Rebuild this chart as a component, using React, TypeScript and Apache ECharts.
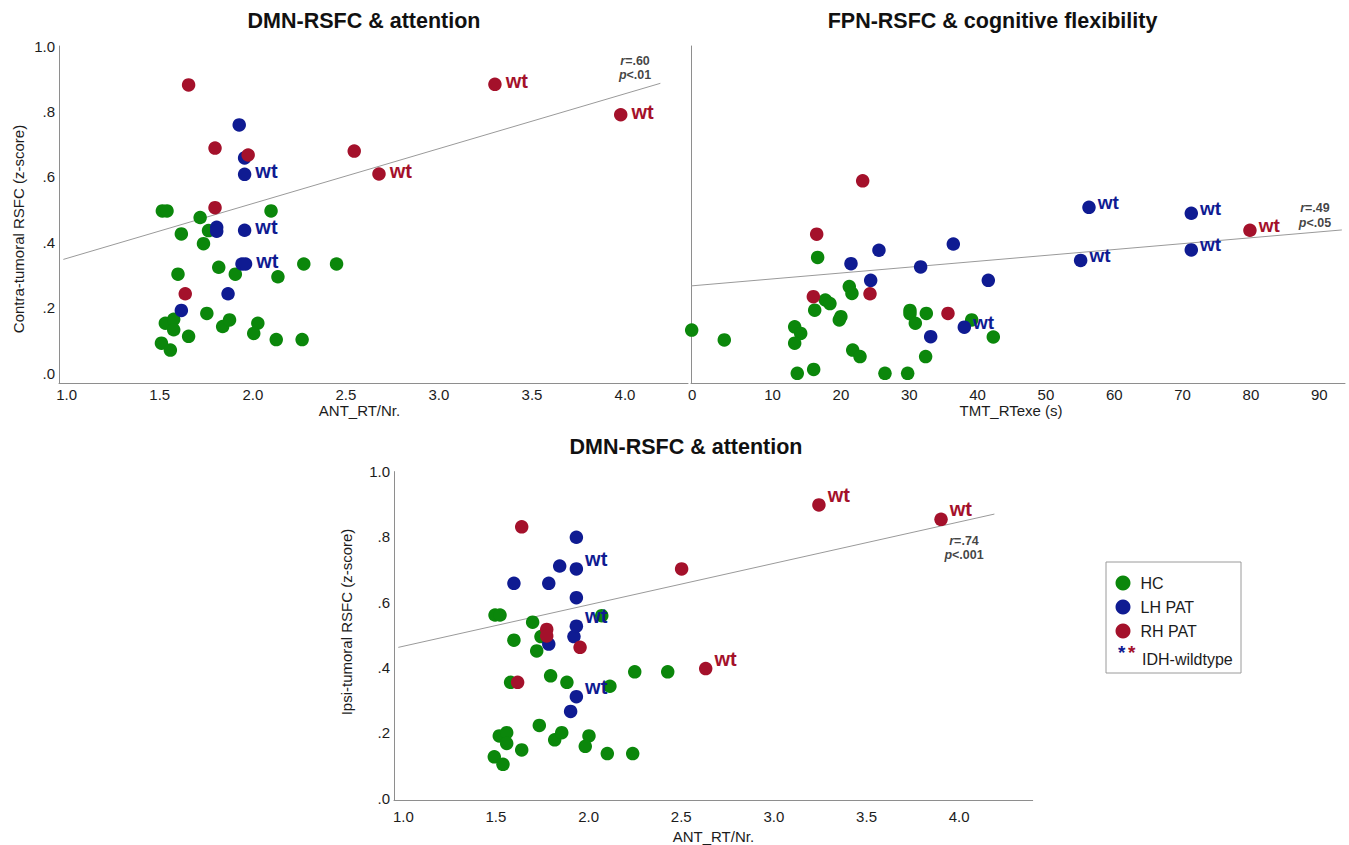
import React, { useEffect, useRef } from 'react';
import * as echarts from 'echarts';

type P = [number, number];

const FONT = '"Liberation Sans", Arial, Helvetica, sans-serif';
const groupNames = ['HC', 'LH PAT', 'RH PAT'];
const groupColors = ['#0b870b', '#0f1b92', '#a4112b'];

// Panel A: DMN-RSFC (contra-tumoral) vs ANT_RT/Nr.
const aHC: P[] = [
  [1.514, 0.496], [1.539, 0.496], [1.717, 0.476], [1.616, 0.426], [1.762, 0.436], [1.735, 0.396],
  [2.098, 0.496], [1.598, 0.303], [1.817, 0.324], [1.906, 0.303], [2.135, 0.295], [2.274, 0.334],
  [2.45, 0.334], [1.753, 0.183], [1.53, 0.153], [1.575, 0.165], [1.575, 0.133], [1.655, 0.113],
  [1.509, 0.092], [1.557, 0.071], [1.838, 0.143], [1.875, 0.163], [2.027, 0.153], [2.005, 0.122],
  [2.126, 0.103], [2.265, 0.103],
];
const aLH: P[] = [[1.927, 0.759], [1.956, 0.658], [1.806, 0.446], [1.806, 0.434], [1.867, 0.243], [1.616, 0.192], [1.942, 0.334]];
const aLHwt: P[] = [[1.956, 0.608], [1.956, 0.437], [1.961, 0.334]];
const aRH: P[] = [[1.655, 0.881], [1.797, 0.688], [1.975, 0.667], [1.797, 0.506], [1.637, 0.243], [2.545, 0.679]];
const aRHwt: P[] = [[2.678, 0.609], [3.301, 0.883], [3.977, 0.79]];
const aFit: P[] = [[0.982, 0.348], [4.19, 0.886]];
const aStat = ['.60', '.01'];
const aStatPos: P = [4.054, 0.933];

// Panel B: FPN-RSFC vs TMT_RTexe (s)
const bHC: P[] = [
  [-1.83, 0.132], [2.94, 0.102], [16.6, 0.354], [21.23, 0.265], [21.62, 0.244], [17.72, 0.224],
  [18.4, 0.213], [16.17, 0.193], [20.0, 0.173], [19.77, 0.163], [13.24, 0.142], [14.12, 0.122],
  [13.24, 0.092], [30.11, 0.192], [30.11, 0.182], [30.89, 0.153], [32.5, 0.183], [39.14, 0.163],
  [42.3, 0.111], [21.73, 0.071], [22.8, 0.051], [32.4, 0.051], [13.62, 0.0], [16.02, 0.012],
  [26.45, 0.0], [29.77, 0.0],
];
const bLH: P[] = [[21.48, 0.335], [25.57, 0.376], [24.36, 0.284], [31.67, 0.325], [36.45, 0.395], [41.57, 0.284], [33.14, 0.112]];
const bLHwt: P[] = [[38.06, 0.141], [56.3, 0.507], [55.08, 0.345], [71.27, 0.489], [71.27, 0.377]];
const bRH: P[] = [[23.19, 0.588], [16.46, 0.425], [15.97, 0.234], [24.26, 0.243], [35.67, 0.183]];
const bRHwt: P[] = [[79.85, 0.437]];
const bFit: P[] = [[-1.93, 0.267], [93.3, 0.438]];
const bStat = ['.49', '.05'];
const bStatPos: P = [89.36, 0.482];

// Panel C: DMN-RSFC (ipsi-tumoral) vs ANT_RT/Nr.
const cHC: P[] = [
  [1.495, 0.561], [1.522, 0.561], [1.698, 0.539], [2.071, 0.559], [1.597, 0.484], [1.743, 0.495],
  [1.72, 0.451], [1.579, 0.355], [1.795, 0.375], [1.883, 0.355], [2.115, 0.343], [2.249, 0.387],
  [2.427, 0.387], [1.734, 0.223], [1.518, 0.191], [1.558, 0.201], [1.558, 0.168], [1.639, 0.148],
  [1.491, 0.127], [1.538, 0.104], [1.817, 0.179], [1.855, 0.201], [2.002, 0.191], [1.982, 0.159],
  [2.101, 0.137], [2.238, 0.137],
];
const cLH: P[] = [[1.934, 0.799], [1.844, 0.711], [1.597, 0.658], [1.785, 0.658], [1.934, 0.614], [1.921, 0.495], [1.785, 0.472], [1.903, 0.266]];
const cLHwt: P[] = [[1.934, 0.702], [1.934, 0.527], [1.934, 0.311]];
const cRH: P[] = [[1.639, 0.831], [2.502, 0.702], [1.774, 0.517], [1.774, 0.497], [1.954, 0.462], [1.617, 0.355]];
const cRHwt: P[] = [[3.243, 0.898], [3.902, 0.854], [2.632, 0.397]];
const cFit: P[] = [[0.973, 0.462], [4.19, 0.87]];
const cStat = ['.74', '.001'];
const cStatPos: P = [4.026, 0.766];

const antTicks = [1, 1.5, 2, 2.5, 3, 3.5, 4];
const tmtTicks = [0, 10, 20, 30, 40, 50, 60, 70, 80, 90];
const zTicks = [0, 0.2, 0.4, 0.6, 0.8, 1];

const titles = ['DMN-RSFC & attention', 'FPN-RSFC & cognitive flexibility', 'DMN-RSFC & attention'];
const xNames = ['ANT_RT/Nr.', 'TMT_RTexe (s)', 'ANT_RT/Nr.'];
const yNames = ['Contra-tumoral RSFC (z-score)', '', 'Ipsi-tumoral RSFC (z-score)'];

const AXIS_COLOR = '#8e8e8e';
const TEXT_COLOR = '#1c1c1c';

const zFmt = (v: number) => (v >= 1 ? '1.0' : '.' + Math.round(v * 10));

function groupSeries(grid: number, g: number, plain: P[], wt: P[], wtStyle: { fs: number; dist: number; dy: number }) {
  const color = groupColors[g];
  return {
    type: 'scatter',
    name: groupNames[g],
    xAxisIndex: grid,
    yAxisIndex: grid,
    symbol: 'circle',
    symbolSize: 13.5,
    z: 3,
    itemStyle: { color, opacity: 1 },
    emphasis: { disabled: true },
    label: { show: false },
    data: [
      ...plain.map((p) => ({ value: p })),
      ...wt.map((p) => ({
        value: p,
        label: {
          show: true,
          formatter: 'wt',
          position: 'right',
          distance: wtStyle.dist,
          offset: [0, wtStyle.dy],
          color,
          fontSize: wtStyle.fs,
          fontWeight: 'bold',
          fontFamily: FONT,
        },
      })),
    ],
  };
}

function fitSeries(grid: number, fit: P[]) {
  return {
    type: 'line',
    xAxisIndex: grid,
    yAxisIndex: grid,
    data: fit,
    symbol: 'none',
    silent: true,
    z: 1,
    lineStyle: { color: '#9a9a9a', width: 1 },
  };
}

function statSeries(grid: number, pos: P, stat: string[]) {
  return {
    type: 'scatter',
    xAxisIndex: grid,
    yAxisIndex: grid,
    symbolSize: 1,
    silent: true,
    z: 4,
    itemStyle: { color: 'rgba(0,0,0,0)' },
    data: [{ value: pos }],
    label: {
      show: true,
      position: 'inside',
      align: 'center',
      color: '#111',
      textBorderWidth: 0,
      formatter: `{i|r}{b|=${stat[0]}}\n{i|p}{b|<${stat[1]}}`,
      rich: {
        i: { fontStyle: 'italic', fontWeight: 'bold', fontSize: 12.5, color: '#111', fontFamily: FONT, lineHeight: 14.5, textBorderWidth: 0 },
        b: { fontWeight: 'bold', fontSize: 12.5, color: '#111', fontFamily: FONT, lineHeight: 14.5, textBorderWidth: 0 },
      },
    },
  };
}

function xAxis(grid: number, min: number, max: number, ticks: number[], fmt: (v: number) => string, margin: number, nameGap: number, namePad: number[], rich?: any) {
  return {
    type: 'value',
    gridIndex: grid,
    min,
    max,
    axisLine: { show: true, onZero: false, lineStyle: { color: AXIS_COLOR, width: 1 } },
    axisTick: { show: false },
    splitLine: { show: false },
    axisLabel: { customValues: ticks, formatter: fmt, fontSize: 15, color: TEXT_COLOR, fontFamily: FONT, margin, rich },
    name: xNames[grid],
    nameLocation: 'middle',
    nameGap,
    nameTextStyle: { fontSize: 15, color: TEXT_COLOR, fontFamily: FONT, padding: namePad },
  };
}

function yAxis(grid: number, min: number, showLabels: boolean) {
  return {
    type: 'value',
    gridIndex: grid,
    min,
    max: 1,
    axisLine: { show: true, onZero: false, lineStyle: { color: AXIS_COLOR, width: 1 } },
    axisTick: { show: false },
    splitLine: { show: false },
    axisLabel: { show: showLabels, customValues: zTicks, formatter: zFmt, fontSize: 15, color: TEXT_COLOR, fontFamily: FONT, margin: 4 },
  };
}

export default function App() {
  const ref = useRef<HTMLDivElement>(null);
  useEffect(() => {
    if (!ref.current) return;
    const chart = echarts.init(ref.current, undefined, { renderer: 'svg' });
    const wtA = { fs: 20, dist: 4, dy: -3 };
    const wtB = { fs: 19, dist: 2, dy: -5 };
    const wtC = { fs: 20, dist: 2, dy: -10 };
    const titleFont = `bold 21.5px ${FONT}`;
    const option: any = {
      animation: false,
      backgroundColor: '#ffffff',
      textStyle: { fontFamily: FONT },
      grid: [
        { left: 59, top: 46, width: 629, height: 337 },
        { left: 691, top: 46, width: 654, height: 337 },
        { left: 394, top: 471.6, width: 638.7, height: 328.4 },
      ],
      xAxis: [
        xAxis(0, 0.9586, 4.3385, antTicks, (v: number) => v.toFixed(1), 4, 16, [0, 28, 0, 0]),
        xAxis(1, -1.93, 93.76, tmtTicks, (v: number) => (v === 0 ? '{z|0}' : String(v)), 4, 17, [0, 14, 0, 0], {
          z: { padding: [0, 24, 0, 0], fontSize: 15, color: TEXT_COLOR, fontFamily: FONT },
        }),
        xAxis(2, 0.9498, 4.3967, antTicks, (v: number) => v.toFixed(1), 9, 29, [0, 0, 0, 0]),
      ],
      yAxis: [
        yAxis(0, -0.0296, true),
        yAxis(1, -0.0296, false),
        yAxis(2, -0.0052, true),
      ],
      legend: {
        data: groupNames,
        orient: 'vertical',
        left: 1115.5,
        top: 575,
        padding: 0,
        itemWidth: 25,
        itemHeight: 15,
        itemGap: 8,
        icon: 'circle',
        selectedMode: false,
        textStyle: { fontSize: 16, color: TEXT_COLOR, fontFamily: FONT },
      },
      graphic: [
        { type: 'text', x: 364, y: 21, style: { text: titles[0], align: 'center', verticalAlign: 'middle', font: titleFont, fill: '#111' } },
        { type: 'text', x: 992.5, y: 21, style: { text: titles[1], align: 'center', verticalAlign: 'middle', font: titleFont, fill: '#111' } },
        { type: 'text', x: 686, y: 447, style: { text: titles[2], align: 'center', verticalAlign: 'middle', font: titleFont, fill: '#111' } },
        { type: 'text', x: 18.5, y: 229, rotation: Math.PI / 2, style: { text: yNames[0], align: 'center', verticalAlign: 'middle', font: `15px ${FONT}`, fill: TEXT_COLOR } },
        { type: 'text', x: 346, y: 622, rotation: Math.PI / 2, style: { text: yNames[2], align: 'center', verticalAlign: 'middle', font: `15px ${FONT}`, fill: TEXT_COLOR } },
        { type: 'rect', shape: { x: 1106, y: 562, width: 135, height: 111 }, style: { fill: 'none', stroke: '#9a9a9a', lineWidth: 1 } },
        { type: 'text', x: 1121.7, y: 652, style: { text: '*', align: 'center', verticalAlign: 'middle', font: `bold 19px ${FONT}`, fill: groupColors[1] } },
        { type: 'text', x: 1131.7, y: 652, style: { text: '*', align: 'center', verticalAlign: 'middle', font: `bold 19px ${FONT}`, fill: groupColors[2] } },
        { type: 'text', x: 1142, y: 659, style: { text: 'IDH-wildtype', align: 'left', verticalAlign: 'middle', font: `16px ${FONT}`, fill: TEXT_COLOR } },
      ],
      series: [
        fitSeries(0, aFit),
        groupSeries(0, 0, aHC, [], wtA),
        groupSeries(0, 1, aLH, aLHwt, wtA),
        groupSeries(0, 2, aRH, aRHwt, wtA),
        statSeries(0, aStatPos, aStat),
        fitSeries(1, bFit),
        groupSeries(1, 0, bHC, [], wtB),
        groupSeries(1, 1, bLH, bLHwt, wtB),
        groupSeries(1, 2, bRH, bRHwt, wtB),
        statSeries(1, bStatPos, bStat),
        fitSeries(2, cFit),
        groupSeries(2, 0, cHC, [], wtC),
        groupSeries(2, 1, cLH, cLHwt, wtC),
        groupSeries(2, 2, cRH, cRHwt, wtC),
        statSeries(2, cStatPos, cStat),
      ],
    };
    chart.setOption(option);
    return () => chart.dispose();
  }, []);
  return (
    <div
      ref={ref}
      style={{ position: 'absolute', left: 0, top: 0, width: 1349, height: 845, background: '#fff' }}
    />
  );
}
